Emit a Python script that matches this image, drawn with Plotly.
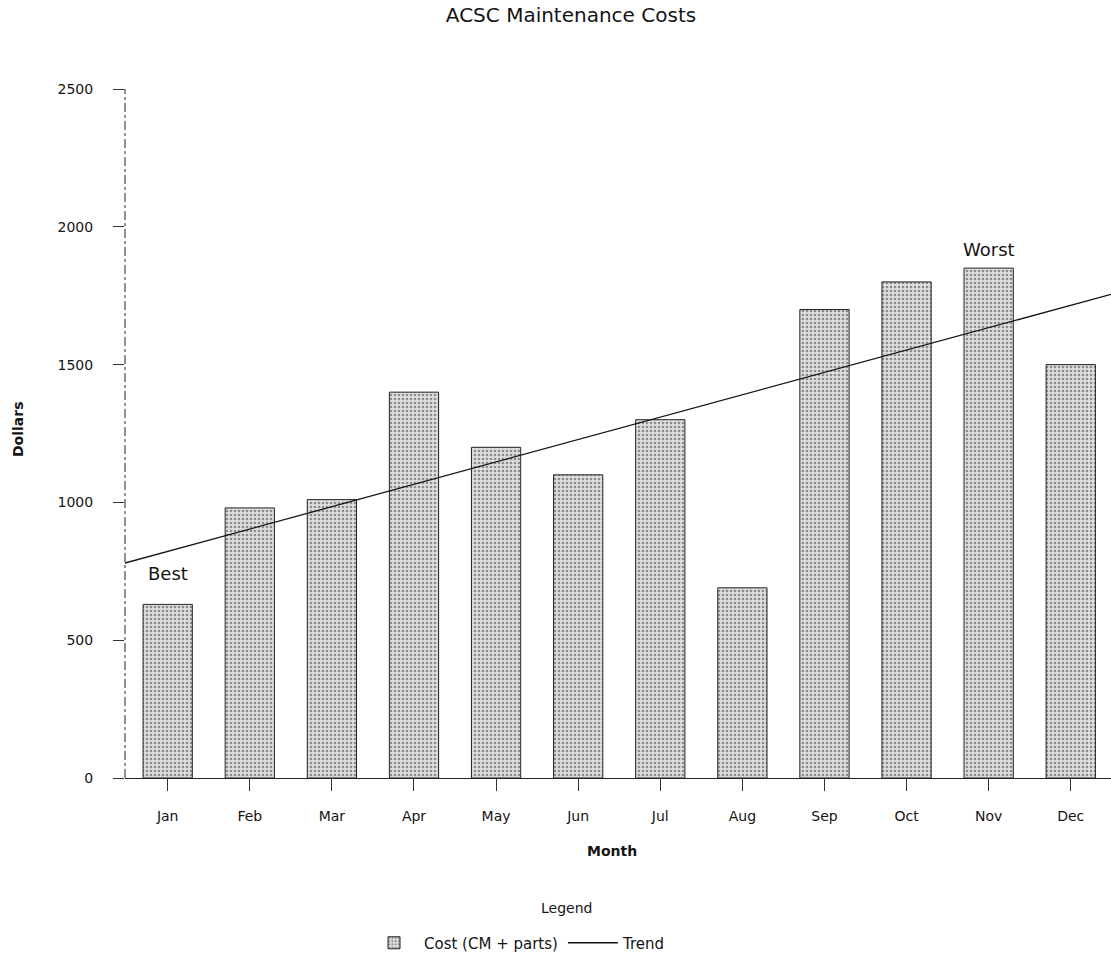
import plotly.graph_objects as go

months = ["Jan", "Feb", "Mar", "Apr", "May", "Jun", "Jul", "Aug", "Sep", "Oct", "Nov", "Dec"]
cost = [630, 980, 1010, 1400, 1200, 1100, 1300, 690, 1700, 1800, 1850, 1500]
trend_ends = [780, 1755]          # trend line value at left and right edge of the plot
y_ticks = [0, 500, 1000, 1500, 2000, 2500]
y_ticktext = ["0", "500", "1000", "1500", "2000", "2500"]

x_idx = list(range(len(months)))
x_range = [-0.52, 11.49]

FONT = "DejaVu Sans"
INK = "#141414"

fig = go.Figure()
fig.add_trace(go.Bar(
    x=x_idx, y=cost, width=0.6, name="Cost (CM + parts)",
    marker=dict(color="#dedede",
                line=dict(color="#222222", width=1),
                pattern=dict(shape=".", fgcolor="#3a3a3a", bgcolor="#dedede",
                             size=4, solidity=0.35)),
))
fig.add_trace(go.Scatter(
    x=x_range, y=trend_ends, mode="lines", name="Trend",
    line=dict(color=INK, width=1.3),
))

fig.update_layout(
    width=1111, height=955,
    margin=dict(l=125, r=0, t=89, b=177, autoexpand=False),
    paper_bgcolor="white", plot_bgcolor="white",
    font=dict(family=FONT, size=14, color=INK),
    title=dict(text="ACSC Maintenance Costs", x=571 / 1111, xanchor="center",
               y=1 - 15 / 955, yanchor="middle", font=dict(size=20)),
    showlegend=True,
    legend=dict(orientation="h", x=(517 - 125) / 986, xanchor="center",
                y=(778 - 943) / 689, yanchor="middle",
                font=dict(size=15), itemwidth=50, bgcolor="rgba(0,0,0,0)"),
    bargap=0.4,
)

fig.update_xaxes(
    range=x_range, tickmode="array", tickvals=x_idx, ticktext=months,
    showgrid=False, zeroline=False, showline=True, linecolor="#222222", linewidth=1.2,
    ticks="outside", ticklen=12, tickcolor="#333333", tickwidth=1.2,
    ticklabelstandoff=13, tickfont=dict(size=14),
)
fig.update_yaxes(
    range=[0, 2500], tickmode="array", tickvals=y_ticks, ticktext=y_ticktext,
    showgrid=False, zeroline=False, showline=False,
    ticks="outside", ticklen=11, tickcolor="#333333", tickwidth=1.2,
    ticklabelstandoff=17, tickfont=dict(size=14),
)

# dash-dot vertical axis line
fig.add_shape(type="line", xref="paper", yref="y", x0=0, x1=0, y0=0, y1=2500,
              line=dict(color="#222222", width=1, dash="dashdot"))

fig.add_annotation(text="<b>Dollars</b>", xref="paper", yref="paper",
                   x=(18 - 125) / 986, y=(778 - 429) / 689, textangle=-90,
                   xanchor="center", yanchor="middle",
                   showarrow=False, font=dict(size=14))
fig.add_annotation(text="<b>Month</b>", xref="paper", yref="paper",
                   x=(612 - 125) / 986, y=(778 - 851) / 689,
                   xanchor="center", yanchor="middle",
                   showarrow=False, font=dict(size=14))
fig.add_annotation(text="Legend", xref="paper", yref="paper",
                   x=(566 - 125) / 986, y=(778 - 908) / 689,
                   xanchor="center", yanchor="middle",
                   showarrow=False, font=dict(size=14))
fig.add_annotation(text="Best", x=0, y=cost[0], yanchor="bottom", yshift=18,
                   showarrow=False, font=dict(size=18))
fig.add_annotation(text="Worst", x=10, y=cost[10], yanchor="bottom", yshift=6,
                   showarrow=False, font=dict(size=18))

fig.write_html("out.html")
